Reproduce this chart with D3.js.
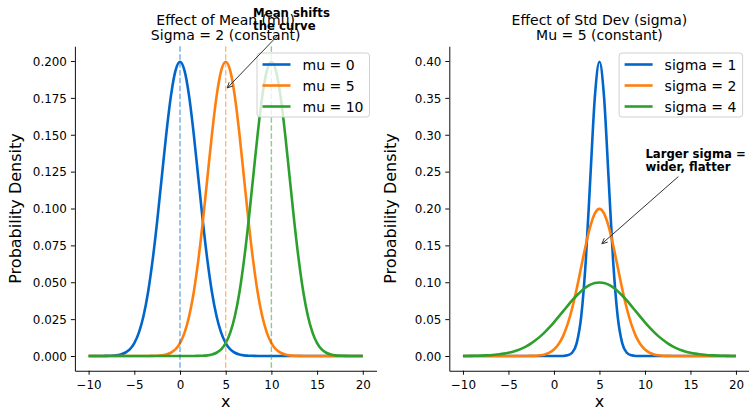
<!DOCTYPE html>
<html>
<head>
<meta charset="utf-8">
<script src="https://cdn.jsdelivr.net/npm/d3@7"></script>
<style>
  body { margin: 0; background: #fff; }
  svg { font-family: "DejaVu Sans", sans-serif; }
</style>
</head>
<body>
<div id="chart"></div>
<script>
// x grid shared by every curve (-10 .. 20, step 0.5)
var xs = [-10, -9.5, -9, -8.5, -8, -7.5, -7, -6.5, -6, -5.5, -5, -4.5, -4, -3.5, -3, -2.5, -2, -1.5, -1, -0.5,
          0, 0.5, 1, 1.5, 2, 2.5, 3, 3.5, 4, 4.5, 5, 5.5, 6, 6.5, 7, 7.5, 8, 8.5, 9, 9.5,
          10, 10.5, 11, 11.5, 12, 12.5, 13, 13.5, 14, 14.5, 15, 15.5, 16, 16.5, 17, 17.5, 18, 18.5, 19, 19.5, 20];

// left panel: sigma = 2, mean moves
var meanLabels = ["mu = 0", "mu = 5", "mu = 10"];
var meanValues = [0, 5, 10];
var mu0 = [0, 0, 0, 0, 0.0001, 0.0002, 0.0004, 0.0010, 0.0022, 0.0045, 0.0088, 0.0159, 0.0270, 0.0431, 0.0648, 0.0913, 0.1210, 0.1506, 0.1760, 0.1933,
           0.1995, 0.1933, 0.1760, 0.1506, 0.1210, 0.0913, 0.0648, 0.0431, 0.0270, 0.0159, 0.0088, 0.0045, 0.0022, 0.0010, 0.0004, 0.0002, 0.0001,
           0, 0, 0, 0, 0, 0, 0, 0, 0, 0, 0, 0, 0, 0, 0, 0, 0, 0, 0, 0, 0, 0, 0, 0];
var mu5 = [0, 0, 0, 0, 0, 0, 0, 0, 0, 0, 0, 0, 0, 0,
           0.0001, 0.0002, 0.0004, 0.0010, 0.0022, 0.0045, 0.0088, 0.0159, 0.0270, 0.0431, 0.0648, 0.0913, 0.1210, 0.1506, 0.1760, 0.1933,
           0.1995, 0.1933, 0.1760, 0.1506, 0.1210, 0.0913, 0.0648, 0.0431, 0.0270, 0.0159, 0.0088, 0.0045, 0.0022, 0.0010, 0.0004, 0.0002, 0.0001,
           0, 0, 0, 0, 0, 0, 0, 0, 0, 0, 0, 0, 0, 0];
var mu10 = [0, 0, 0, 0, 0, 0, 0, 0, 0, 0, 0, 0, 0, 0, 0, 0, 0, 0, 0, 0, 0, 0, 0, 0,
            0.0001, 0.0002, 0.0004, 0.0010, 0.0022, 0.0045, 0.0088, 0.0159, 0.0270, 0.0431, 0.0648, 0.0913, 0.1210, 0.1506, 0.1760, 0.1933,
            0.1995, 0.1933, 0.1760, 0.1506, 0.1210, 0.0913, 0.0648, 0.0431, 0.0270, 0.0159, 0.0088, 0.0045, 0.0022, 0.0010, 0.0004, 0.0002, 0.0001,
            0, 0, 0, 0];

// right panel: mu = 5, sigma moves
var sigmaLabels = ["sigma = 1", "sigma = 2", "sigma = 4"];
var sigma1 = [0, 0, 0, 0, 0, 0, 0, 0, 0, 0, 0, 0, 0, 0, 0, 0, 0, 0, 0, 0, 0, 0,
              0.0001, 0.0009, 0.0044, 0.0175, 0.0540, 0.1295, 0.2420, 0.3521,
              0.3989, 0.3521, 0.2420, 0.1295, 0.0540, 0.0175, 0.0044, 0.0009, 0.0001,
              0, 0, 0, 0, 0, 0, 0, 0, 0, 0, 0, 0, 0, 0, 0, 0, 0, 0, 0, 0, 0, 0];
var sigma2 = mu5;
var sigma4 = [0.0001, 0.0001, 0.0002, 0.0003, 0.0005, 0.0008, 0.0011, 0.0016, 0.0023, 0.0032, 0.0044, 0.0059, 0.0079, 0.0104, 0.0135,
              0.0172, 0.0216, 0.0266, 0.0324, 0.0388, 0.0457, 0.0530, 0.0605, 0.0680, 0.0753, 0.0820, 0.0880, 0.0930, 0.0967, 0.0990,
              0.0997, 0.0990, 0.0967, 0.0930, 0.0880, 0.0820, 0.0753, 0.0680, 0.0605, 0.0530, 0.0457, 0.0388, 0.0324, 0.0266, 0.0216,
              0.0172, 0.0135, 0.0104, 0.0079, 0.0059, 0.0044, 0.0032, 0.0023, 0.0016, 0.0011, 0.0008, 0.0005, 0.0003, 0.0002, 0.0001, 0.0001];

// tick labels
var xTicks = [-10, -5, 0, 5, 10, 15, 20];
var leftYTicks = [0, 0.025, 0.05, 0.075, 0.1, 0.125, 0.15, 0.175, 0.2];
var rightYTicks = [0, 0.05, 0.1, 0.15, 0.2, 0.25, 0.3, 0.35, 0.4];

var colors = ["#0066cc", "#ff7f0e", "#2ca02c"];

var width = 749, height = 410;
var plotTop = 46.25, plotBottom = 370.75;

var svg = d3.select("#chart")
  .append("svg")
    .attr("width", width)
    .attr("height", height);

function drawPanel(p) {

  var x = d3.scaleLinear().domain([-11.5, 21.5]).range([p.left, p.right]);
  var y = d3.scaleLinear().domain(p.yDomain).range([plotBottom, plotTop]);
  var g = svg.append("g");

  var line = d3.line()
      .x(function(d, i) { return x(xs[i]); })
      .y(function(d) { return y(d); })
      .curve(d3.curveMonotoneX);

  g.selectAll(".curve")
    .data(p.series)
    .join("path")
      .attr("class", "curve")
      .attr("d", line)
      .attr("fill", "none")
      .attr("stroke", function(d, i) { return colors[i]; })
      .attr("stroke-width", 2.6)
      .attr("stroke-linejoin", "round");

  // dashed markers at the means (left panel only)
  g.selectAll(".vline")
    .data(p.vlines)
    .join("line")
      .attr("class", "vline")
      .attr("x1", function(d) { return x(d); })
      .attr("x2", function(d) { return x(d); })
      .attr("y1", plotTop)
      .attr("y2", plotBottom)
      .attr("stroke", function(d, i) { return colors[i]; })
      .attr("stroke-opacity", 0.55)
      .attr("stroke-width", 1.4)
      .attr("stroke-dasharray", "5.5,2.4");

  // axes
  var xAxis = g.append("g")
      .attr("transform", "translate(0," + plotBottom + ")")
      .call(d3.axisBottom(x).tickValues(xTicks).tickFormat(d3.format("d")).tickSize(4).tickSizeOuter(0).tickPadding(4));
  var yAxis = g.append("g")
      .attr("transform", "translate(" + p.left + ",0)")
      .call(d3.axisLeft(y).tickValues(p.yTicks).tickFormat(d3.format(p.yFormat)).tickSize(4).tickSizeOuter(0).tickPadding(4));

  [xAxis, yAxis].forEach(function(a) {
    a.selectAll("text").attr("font-size", 11.9).attr("fill", "#000").attr("font-family", "DejaVu Sans");
    a.selectAll("line").attr("stroke", "#000").attr("stroke-width", 0.95);
    a.select(".domain").attr("stroke", "#000").attr("stroke-width", 0.95);
  });
  xAxis.selectAll("text").attr("dy", null).attr("y", 18);
  yAxis.selectAll("text").attr("dy", "0.36em");

  // axis labels
  var midX = (p.left + p.right) / 2;
  g.append("text")
      .text("x")
      .attr("x", midX)
      .attr("y", 407)
      .attr("text-anchor", "middle")
      .attr("font-size", 16);
  g.append("text")
      .text("Probability Density")
      .attr("transform", "translate(" + p.yLabelX + "," + ((plotTop + plotBottom) / 2) + ") rotate(-90)")
      .attr("text-anchor", "middle")
      .attr("font-size", 16);

  // title
  g.selectAll(".title")
    .data(p.title)
    .join("text")
      .attr("class", "title")
      .text(function(d) { return d; })
      .attr("x", midX)
      .attr("y", function(d, i) { return 25 + i * 15; })
      .attr("text-anchor", "middle")
      .attr("font-size", 14);

  // legend
  var lg = g.append("g").attr("transform", "translate(" + (p.right - 7 - p.legendWidth) + "," + 53 + ")");
  lg.append("rect")
      .attr("width", p.legendWidth)
      .attr("height", 64)
      .attr("rx", 3)
      .attr("fill", "#fff")
      .attr("fill-opacity", 0.8)
      .attr("stroke", "#d0d0d0")
      .attr("stroke-width", 1);
  var rows = lg.selectAll(".row")
    .data(p.labels)
    .join("g")
      .attr("class", "row")
      .attr("transform", function(d, i) { return "translate(0," + (11.5 + i * 21) + ")"; });
  rows.append("line")
      .attr("x1", 5.5)
      .attr("x2", 33.5)
      .attr("stroke", function(d, i) { return colors[i]; })
      .attr("stroke-width", 2.6);
  rows.append("text")
      .text(function(d) { return d; })
      .attr("x", 45.5)
      .attr("dy", "0.36em")
      .attr("font-size", 14);

  // annotation with arrow
  var a = p.note;
  var tx = x(a.textAt[0]), ty = y(a.textAt[1]);
  var sx = x(a.from[0]), sy = y(a.from[1]);
  var ex = x(a.to[0]), ey = y(a.to[1]);
  var ang = Math.atan2(ey - sy, ex - sx);
  var hl = 6, hw = 0.45;
  g.append("path")
      .attr("d", "M" + sx + "," + sy + "L" + ex + "," + ey +
                 "M" + (ex - hl * Math.cos(ang - hw)) + "," + (ey - hl * Math.sin(ang - hw)) +
                 "L" + ex + "," + ey +
                 "L" + (ex - hl * Math.cos(ang + hw)) + "," + (ey - hl * Math.sin(ang + hw)))
      .attr("fill", "none")
      .attr("stroke", "#333")
      .attr("stroke-width", 1);
  g.append("text")
      .attr("font-size", 11.7)
      .attr("font-weight", "bold")
    .selectAll("tspan")
    .data(a.lines)
    .join("tspan")
      .text(function(d) { return d; })
      .attr("x", tx)
      .attr("y", function(d, i) { return ty + i * 13; });
}

drawPanel({
  left: 74.9, right: 376.5,
  yDomain: [-0.01, 0.21], yTicks: leftYTicks, yFormat: ".3f",
  series: [mu0, mu5, mu10],
  vlines: meanValues,
  labels: meanLabels,
  legendWidth: 112.5,
  yLabelX: 21,
  title: ["Effect of Mean (mu)", "Sigma = 2 (constant)"],
  note: { lines: ["Mean shifts", "the curve"], textAt: [8, 0.2295], from: [10.65, 0.217], to: [5.17, 0.1817] }
});

drawPanel({
  left: 449.3, right: 749.6,
  yDomain: [-0.02, 0.42], yTicks: rightYTicks, yFormat: ".2f",
  series: [sigma1, sigma2, sigma4],
  vlines: [],
  labels: sigmaLabels,
  legendWidth: 123.5,
  yLabelX: 396,
  title: ["Effect of Std Dev (sigma)", "Mu = 5 (constant)"],
  note: { lines: ["Larger sigma =", "wider, flatter"], textAt: [10.05, 0.269], from: [13.67, 0.2433], to: [5.27, 0.1522] }
});
</script>
</body>
</html>
